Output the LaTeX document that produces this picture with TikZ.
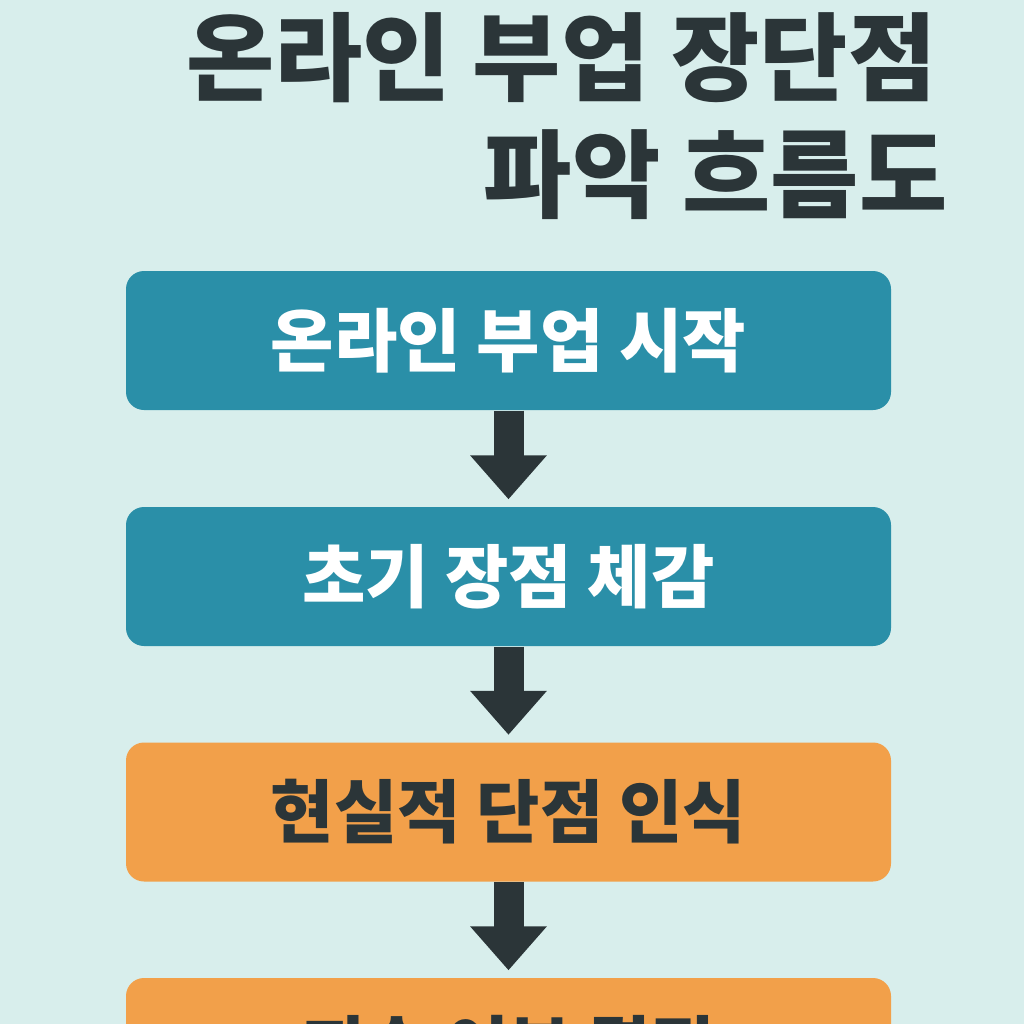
\documentclass[tikz,border=0pt]{standalone}
\usepackage{fontspec}
\newfontfamily\krfont{Noto Sans CJK KR}
\usetikzlibrary{arrows.meta,positioning}
\definecolor{bgmint}{HTML}{D8EEEC}
\definecolor{inkdark}{HTML}{2B3538}
\definecolor{tealbox}{HTML}{2A8FA8}
\definecolor{orangebox}{HTML}{F2A04A}
\tikzset{
  ttl/.style    ={anchor=east, inner sep=0pt, text=inkdark,
                  font=\krfont\bfseries\fontsize{27.3}{30}\selectfont},
  stagebox/.style={rounded corners=1.8mm, minimum width=76.5mm,
                  minimum height=13.9mm, inner sep=0pt,
                  font=\krfont\bfseries\fontsize{19.6}{21}\selectfont},
  upbox/.style  ={stagebox, fill=tealbox, text=white},
  downbox/.style={stagebox, fill=orangebox, text=inkdark},
  flow/.style   ={-{Triangle[width=7.4mm, length=4.4mm]},
                  line width=3mm, inkdark, shorten >=0.7mm},
}
\begin{document}
\begin{tikzpicture}
  \useasboundingbox (0,0) rectangle (10.24,-10.24);
  \fill[bgmint] (0,0) rectangle (10.24,-10.24);
  \clip (0,0) rectangle (10.24,-10.24);
  % ---- title
  \node[ttl] (t1) at (9.37,-0.58) {온라인 부업 장단점};
  \node[ttl] (t2) at (9.48,-1.75) {파악 흐름도};
  % ---- stages
  \node[upbox]   (start) at (5.085,-3.405)  {온라인 부업 시작};
  \node[upbox]   (merit) at (5.085,-5.765)  {초기 장점 체감};
  \node[downbox] (flaw)  at (5.085,-8.12)   {현실적 단점 인식};
  \node[downbox] (decide) at (5.085,-10.475) {지속 여부 결정};
  \draw[flow] (start) -- (merit);
  \draw[flow] (merit) -- (flaw);
  \draw[flow] (flaw) -- (decide);
\end{tikzpicture}
\end{document}
